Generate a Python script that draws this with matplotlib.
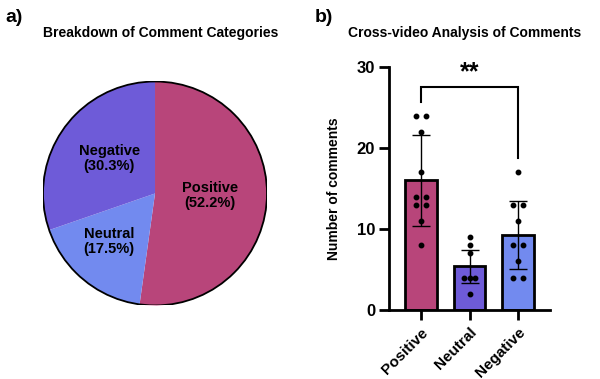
import matplotlib
matplotlib.use("Agg")
import matplotlib.pyplot as plt
from matplotlib.patches import Circle
import numpy as np

plt.rcParams['font.family'] = ['Liberation Sans', 'DejaVu Sans']
plt.rcParams['font.weight'] = 'bold'

# ---- data ----
pie_labels = ["Positive", "Neutral", "Negative"]
pie_pcts = [52.2, 17.5, 30.3]
pie_colors = ["#B8457A", "#728AEF", "#6E5BD8"]

bar_categories = ["Positive", "Neutral", "Negative"]
bar_means = [16.0, 5.4, 9.3]
bar_sds = [5.6, 2.05, 4.2]
bar_colors = ["#B8457A", "#6E5BD8", "#728AEF"]

pos_points = [24, 24, 22, 17, 14, 14, 13, 13, 11, 8]
neu_points = [9, 8, 7, 4, 4, 4, 2]
neg_points = [17, 13, 13, 11, 8, 8, 6, 4, 4]
pos_jitter = [-0.11, 0.11, 0, 0, -0.11, 0.11, -0.11, 0.11, 0, 0]
neu_jitter = [0, 0, 0, -0.11, 0.11, 0, 0]
neg_jitter = [0, -0.11, 0.11, 0, -0.11, 0.11, 0, -0.11, 0.11]

yticks = [0, 10, 20, 30]
sig_text = "**"

fig = plt.figure(figsize=(6, 3.79), dpi=100)

# ---- pie ----
axp = fig.add_axes([0.0717, 0.194, 0.3733, 0.591])
wedges, _ = axp.pie(pie_pcts, colors=pie_colors, startangle=90,
                    counterclock=False, wedgeprops=dict(linewidth=0))
axp.set_xlim(-1, 1)
axp.set_ylim(-1, 1)
axp.set_aspect('equal')
axp.add_patch(Circle((0, 0), 1, fill=False, edgecolor='black', lw=1.3, zorder=5))
label_pos = [(0.49, -0.02), (-0.41, -0.43), (-0.41, 0.31)]
for lab, pct, (x, y) in zip(pie_labels, pie_pcts, label_pos):
    axp.text(x, y, f"{lab}\n({pct:.1f}%)", ha='center', va='center',
             fontsize=10.5, fontweight='bold', linespacing=1.05)

fig.text(161/600, 1 - 33/379, "Breakdown of Comment Categories", ha='center',
         va='center', fontsize=10, fontweight='bold')
fig.text(5/600, 1 - 17/379, "a)", ha='left', va='center', fontsize=14, fontweight='bold')
fig.text(315/600, 1 - 17/379, "b)", ha='left', va='center', fontsize=14, fontweight='bold')
fig.text(465/600, 1 - 33/379, "Cross-video Analysis of Comments", ha='center',
         va='center', fontsize=10, fontweight='bold')

# ---- bar chart ----
axb = fig.add_axes([389/600, 1 - 310/379, 161/600, 243/379])
x = np.arange(len(bar_categories))
axb.bar(x, bar_means, width=0.64, color=bar_colors, edgecolor='black',
        linewidth=2.0, zorder=2)
axb.errorbar(x, bar_means, yerr=bar_sds, fmt='none', ecolor='black',
             elinewidth=1.0, capsize=6.5, capthick=1.0, zorder=3)
for i, (pts, jit) in enumerate([(pos_points, pos_jitter), (neu_points, neu_jitter),
                                (neg_points, neg_jitter)]):
    axb.plot(i + np.array(jit), pts, 'o', color='black', markersize=3.2,
             zorder=4, clip_on=False)

axb.set_xlim(-0.66, 2.66)
axb.set_ylim(0, 30)
axb.set_yticks(yticks)
axb.set_xticks(x)
axb.set_xticklabels(bar_categories, rotation=45, ha='right', rotation_mode='anchor',
                    fontsize=11, fontweight='bold')
for lbl in axb.get_yticklabels():
    lbl.set_fontsize(12)
    lbl.set_fontweight('bold')
axb.tick_params(axis='both', width=2.0, length=7, direction='out', pad=3)
axb.tick_params(axis='x', pad=4)
for s in ['top', 'right']:
    axb.spines[s].set_visible(False)
for s in ['left', 'bottom']:
    axb.spines[s].set_linewidth(2.0)
axb.set_ylabel("Number of comments", fontsize=10, fontweight='bold')
axb.yaxis.set_label_coords(-0.30, 0.5)

# significance bracket
yb = 27.5
axb.plot([0, 0, 2, 2], [25.7, yb, yb, 18.8], color='black', lw=1.5, clip_on=False,
         solid_joinstyle='miter')
axb.text(1, 27.9, sig_text, ha='center', va='bottom', fontsize=18, fontweight='bold')

fig.savefig("out.png", dpi=100, facecolor='white')
